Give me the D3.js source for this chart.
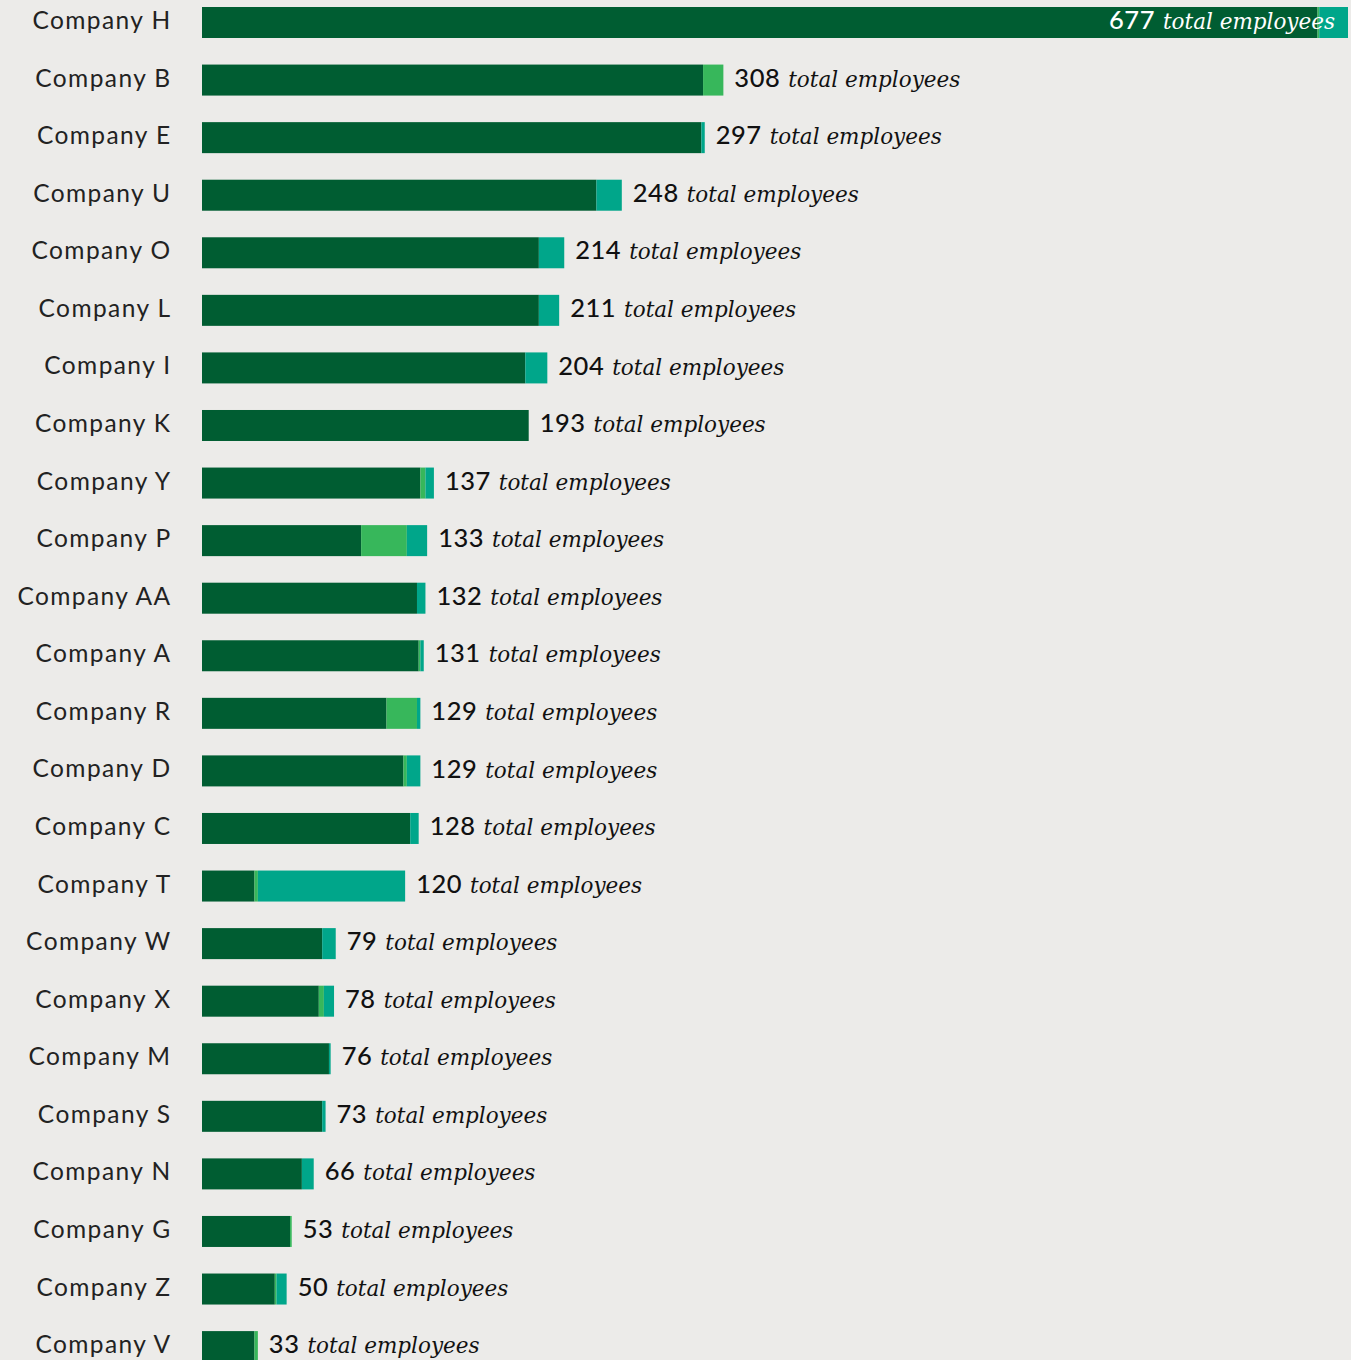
<!DOCTYPE html>
<html>
<head>
<meta charset="utf-8">
<script src="https://cdn.jsdelivr.net/npm/d3@7"></script>
<style>
  html, body { margin: 0; padding: 0; background: #ecebe9; }
  svg { display: block; }
</style>
</head>
<body>
<div id="chart"></div>
<script>
// ---- data ----
const companies = ["Company H","Company B","Company E","Company U","Company O","Company L","Company I","Company K","Company Y","Company P","Company AA","Company A","Company R","Company D","Company C","Company T","Company W","Company X","Company M","Company S","Company N","Company G","Company Z","Company V"];
const seriesA = [659,296,295,233,199,199,191,193,129,94,127,128,109,119,123,31,71,69,75,71,59,52,43,31]; // dark green
const seriesB = [1,12,0,0,0,0,0,0,3,27,0,1,18,2,0,2,0,3,0,0,0,1,1,2];                                   // light green
const seriesC = [17,0,2,15,15,12,13,0,5,12,5,2,2,8,5,87,8,6,1,2,7,0,6,0];                                  // teal
const totals = [677,308,297,248,214,211,204,193,137,133,132,131,129,129,128,120,79,78,76,73,66,53,50,33];
const seriesKeys = ["a","b","c"];
const valueSuffix = "total employees";

// ---- layout ----
const W = 1351, H = 1360;
const colors = { a: "#005d32", b: "#37b75b", c: "#00a68a" };

const rows = companies.map((name, i) => ({ name, a: seriesA[i], b: seriesB[i], c: seriesC[i], total: totals[i] }));

const svg = d3.select("#chart").append("svg").attr("width", W).attr("height", H);
svg.append("rect").attr("width", W).attr("height", H).attr("fill", "#ecebe9");

const x = d3.scaleLinear().domain([0, d3.max(totals)]).range([202, 1348]);
const y = d3.scaleBand().domain(companies).range([7, 1362.1]).paddingInner(0.4615).paddingOuter(0);

const stacked = d3.stack().keys(seriesKeys)(rows);

svg.append("g").selectAll("g").data(stacked).join("g")
  .attr("fill", d => colors[d.key])
  .selectAll("rect").data(d => d).join("rect")
  .attr("x", d => x(d[0]))
  .attr("width", d => Math.max(0, x(d[1]) - x(d[0])))
  .attr("y", d => y(d.data.name))
  .attr("height", y.bandwidth());

// category labels
svg.append("g").selectAll("text").data(rows).join("text")
  .attr("x", 171.5)
  .attr("y", d => y(d.name) + y.bandwidth() / 2 - 2)
  .attr("dy", "0.35em")
  .attr("text-anchor", "end")
  .attr("font-family", "Lato, 'Open Sans', sans-serif")
  .attr("font-size", 24.5)
  .attr("letter-spacing", "1.4px")
  .attr("fill", "#222")
  .text(d => d.name);

// value labels
const maxTotal = d3.max(totals);
const vl = svg.append("g").selectAll("text").data(rows).join("text")
  .attr("x", d => d.total === maxTotal ? x(d.total) - 13 : x(d.total) + 11)
  .attr("y", d => y(d.name) + y.bandwidth() / 2 + 1)
  .attr("dy", "0.35em")
  .attr("text-anchor", d => d.total === maxTotal ? "end" : "start")
  .attr("fill", d => d.total === maxTotal ? "#ffffff" : "#111");
vl.append("tspan")
  .attr("font-family", "Lato, 'Open Sans', sans-serif")
  .attr("font-weight", 500)
  .attr("font-size", 25.5)
  .attr("letter-spacing", "0.5px")
  .text(d => d.total);
vl.append("tspan")
  .attr("font-family", "'DejaVu Serif', serif")
  .attr("font-style", "italic")
  .attr("font-size", 21.5)
  .attr("dx", 8)
  .text(valueSuffix);
</script>
</body>
</html>
